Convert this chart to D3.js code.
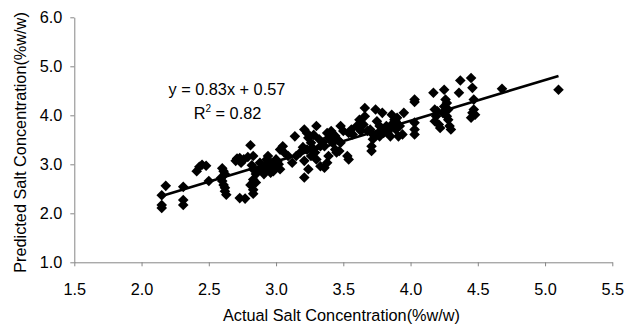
<!DOCTYPE html>
<html>
<head>
<meta charset="utf-8">
<script src="https://cdn.jsdelivr.net/npm/d3@7"></script>
<style>
  html, body { margin: 0; padding: 0; background: #fff; }
  text { font-family: "Liberation Sans", Arial, sans-serif; fill: #000; }
</style>
</head>
<body>
<svg id="chart" width="636" height="326"></svg>
<script>
// ---- data ----
const actual = [
  2.15,2.15,2.15,2.18,2.31,2.31,2.31,2.41,2.43,2.45,2.48,2.50,2.60,2.61,2.59,2.60,2.61,2.62,2.62,2.63,
  2.62,2.70,2.71,2.73,2.74,2.76,2.73,2.77,2.81,2.79,2.83,2.82,2.83,2.85,2.81,2.83,2.85,2.83,2.83,2.86,
  2.88,2.91,2.93,2.94,2.96,2.97,2.99,3.00,3.02,3.03,2.94,2.91,2.89,3.05,3.03,3.06,2.95,2.98,3.01,
  3.14,3.12,3.15,3.09,3.18,3.21,3.23,3.24,3.21,3.21,3.24,3.26,3.27,3.29,3.30,3.32,3.33,3.30,3.33,3.26,
  3.23,3.36,3.38,3.39,3.42,3.44,3.45,3.39,3.36,3.41,3.38,3.48,3.50,3.48,3.53,3.54,3.54,3.56,3.57,3.47,
  3.46,3.44,3.35,3.28,3.20,
  3.60,3.62,3.63,3.66,3.66,3.68,3.65,3.71,3.71,3.72,3.72,3.74,3.76,3.77,3.79,3.80,3.77,3.70,3.82,3.83,
  3.85,3.86,3.88,3.86,3.89,3.91,3.92,3.89,3.94,3.95,3.84,3.75,3.90,
  4.03,4.03,4.03,4.03,4.03,4.17,4.18,4.18,4.21,4.22,4.19,4.25,4.26,4.27,4.28,4.27,4.28,4.29,4.30,4.25,
  4.24,4.20,4.37,4.36,4.45,4.46,4.47,4.45,4.46,4.47,4.48,4.68,5.10
];
const predicted = [
  2.11,2.17,2.37,2.56,2.54,2.27,2.17,2.86,2.95,2.99,2.97,2.66,2.92,2.86,2.72,2.66,2.58,2.52,2.45,2.38,
  2.80,3.07,3.12,3.13,3.03,3.10,2.31,2.30,3.39,3.15,3.17,2.98,2.90,2.80,2.58,2.69,2.63,2.48,2.40,2.86,
  3.03,2.96,3.10,2.90,2.83,3.03,2.93,3.10,3.00,2.90,3.17,2.80,2.93,3.37,3.30,3.24,3.00,2.86,3.05,
  3.57,3.03,3.17,3.17,3.24,3.71,3.64,3.54,2.73,3.07,2.90,3.44,3.34,3.24,3.78,3.51,3.37,3.10,2.96,3.17,
  3.30,2.93,3.03,3.54,3.44,3.30,3.24,3.17,3.37,3.68,3.64,3.78,3.68,3.44,3.17,3.10,3.64,3.71,3.61,3.27,
  3.50,3.58,3.45,3.60,3.35,
  3.78,3.91,3.68,4.15,3.98,3.68,3.81,3.37,3.27,3.51,3.61,4.12,3.64,3.78,4.05,3.64,3.57,3.71,3.78,3.64,
  3.57,4.01,3.91,3.81,3.71,3.57,3.78,3.88,3.61,4.05,3.70,3.88,3.95,
  4.32,4.27,3.85,3.71,3.61,4.46,4.12,3.88,3.81,3.74,3.98,4.52,4.32,4.25,4.12,3.98,3.91,3.78,3.71,4.18,
  4.05,4.08,4.71,4.46,4.76,4.56,4.32,3.95,4.05,4.12,4.01,4.54,4.52
];
const xTicks = [1.5, 2.0, 2.5, 3.0, 3.5, 4.0, 4.5, 5.0, 5.5];
const yTicks = [1.0, 2.0, 3.0, 4.0, 5.0, 6.0];
const slope = 0.83, intercept = 0.57;
const fitRange = [2.15, 5.1];
const xTitle = "Actual Salt Concentration(%w/w)";
const yTitle = "Predicted Salt Concentration(%w/w)";

// ---- layout ----
const svg = d3.select("#chart");
const mLeft = 74.3, mRight = 612.3, mTop = 17.3, mBottom = 262.3;
const x = d3.scaleLinear().domain([1.5, 5.5]).range([mLeft, mRight]);
const y = d3.scaleLinear().domain([1.0, 6.0]).range([mBottom, mTop]);
const axisColor = "#868686";
const fs = "16.3px";

// axes
const xAxis = svg.append("g").attr("transform", `translate(0,${mBottom})`)
  .call(d3.axisBottom(x).tickValues(xTicks).tickSize(4).tickSizeOuter(0).tickPadding(6).tickFormat(d3.format(".1f")));
const yAxis = svg.append("g").attr("transform", `translate(${mLeft},0)`)
  .call(d3.axisLeft(y).tickValues(yTicks).tickSize(4).tickSizeOuter(0).tickPadding(8).tickFormat(d3.format(".1f")));
[xAxis, yAxis].forEach(g => {
  g.select(".domain").attr("stroke", axisColor).attr("stroke-width", 1);
  g.selectAll(".tick line").attr("stroke", axisColor);
  g.selectAll(".tick text").style("font-size", fs).attr("fill", "#000")
    .style("font-family", "'Liberation Sans', Arial, sans-serif");
});
xAxis.selectAll(".tick text").attr("dy", "0.71em").attr("y", 21);

// points
const pts = actual.map((a, i) => [a, predicted[i]]);
const sym = d3.symbol().type(d3.symbolSquare).size(56);
svg.append("g").selectAll("path").data(pts).join("path")
  .attr("d", sym)
  .attr("transform", d => `translate(${x(d[0])},${y(d[1])}) rotate(45)`)
  .attr("fill", "#000");

// trend line
svg.append("line")
  .attr("x1", x(fitRange[0])).attr("y1", y(slope * fitRange[0] + intercept))
  .attr("x2", x(fitRange[1])).attr("y2", y(slope * fitRange[1] + intercept))
  .attr("stroke", "#000").attr("stroke-width", 2.6);

// equation
svg.append("text").attr("x", 168.5).attr("y", 95).style("font-size", fs)
  .text(`y = ${slope}x + ${intercept}`);
const r2 = svg.append("text").attr("x", 193.7).attr("y", 119).style("font-size", fs);
r2.append("tspan").text("R");
r2.append("tspan").attr("dy", -7).style("font-size", "10px").text("2");
r2.append("tspan").attr("dy", 7).text(" = 0.82");

// titles
svg.append("text").attr("x", (mLeft + mRight) / 2 - 1.8).attr("y", 321)
  .attr("text-anchor", "middle").style("font-size", fs).text(xTitle);
svg.append("text").attr("transform", `translate(26,142.5) rotate(-90)`)
  .attr("text-anchor", "middle").style("font-size", fs).text(yTitle);
</script>
</body>
</html>
